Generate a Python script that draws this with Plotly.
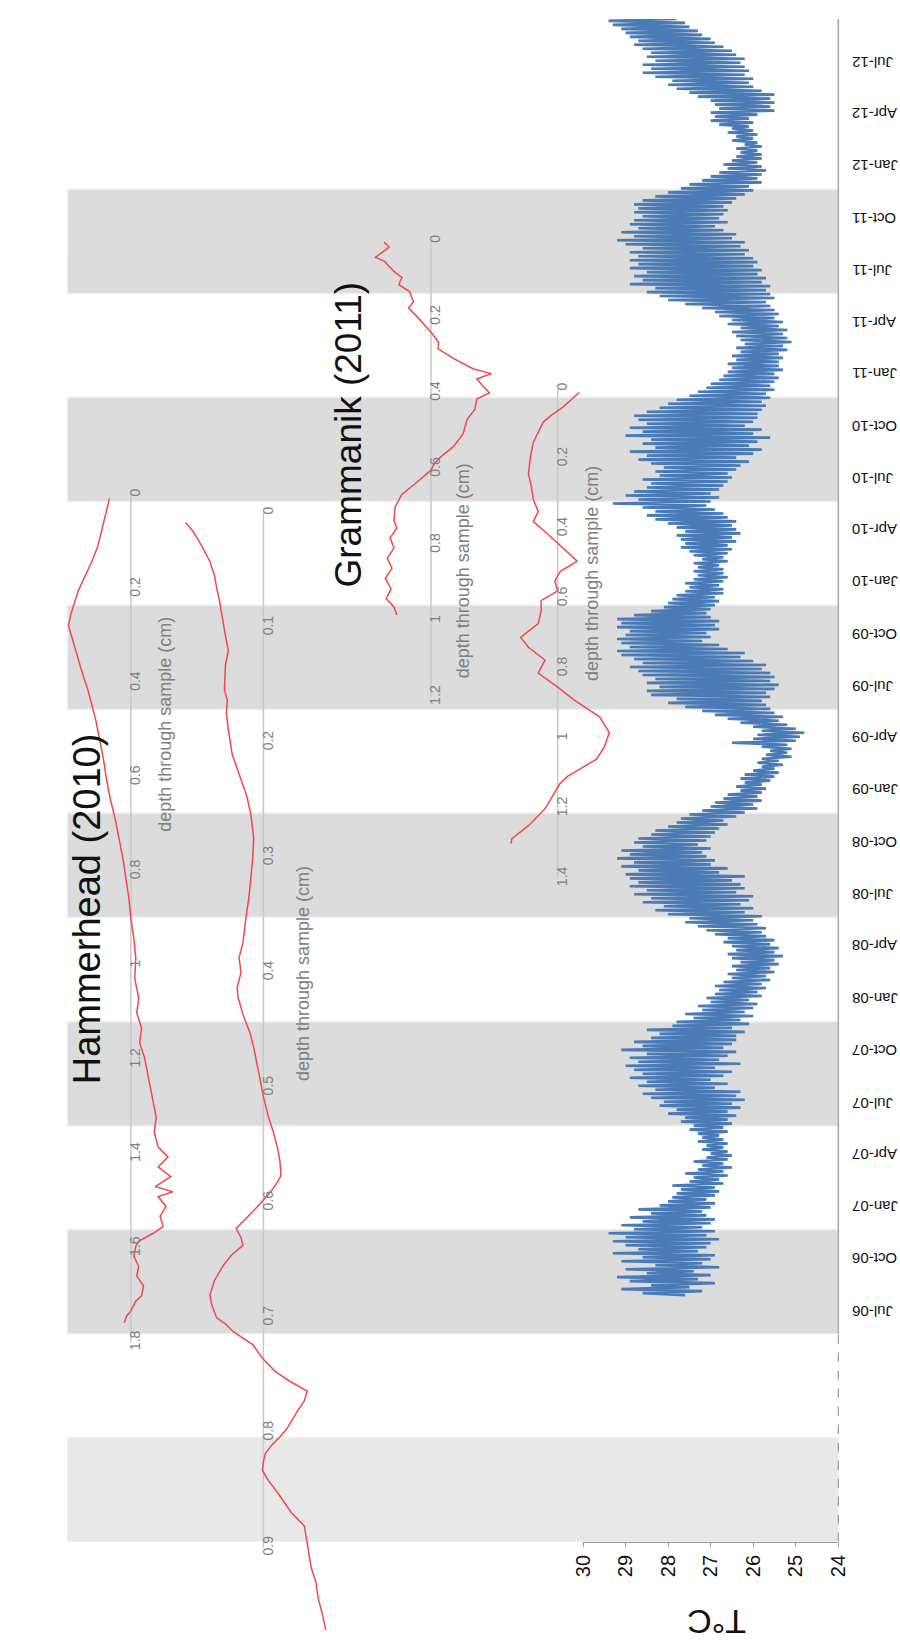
import pandas as pd
import plotly.graph_objects as go

W, H = 900, 1644
FONT = "Liberation Sans, Arial, sans-serif"

# ---------------- temperature logger record (weekly low / high, deg C) ----------------
logger_start = "2006-08-08"
t_high = [
    28.6, 29.1, 28.4, 28.9, 29.2, 28.5, 29.0, 28.3, 29.1, 28.6, 29.3, 28.7, 29.0,
    29.3, 29.0, 29.4, 28.8, 29.1, 28.6, 28.9, 28.4, 28.7, 28.2, 28.0, 27.9, 27.8,
    27.7, 27.9, 27.5, 27.4, 27.6, 27.3, 27.2, 27.4, 27.1, 27.0, 27.2, 27.1, 27.3,
    27.2, 27.3, 27.5, 27.4, 27.7, 27.6, 28.0, 27.8, 28.2, 28.1, 28.4, 28.6, 28.3,
    28.7, 28.5, 28.9, 28.6, 28.8, 29.0, 28.7, 28.9, 28.5, 29.1, 28.6, 28.8, 28.4,
    28.2, 28.5, 27.9, 27.8, 27.4, 27.6, 27.2, 27.3, 27.0, 27.1, 26.9, 26.8, 26.9,
    26.7, 26.5, 26.6, 26.4, 26.5, 26.3, 26.5, 26.6, 26.4, 26.5, 26.7, 26.6, 26.9,
    27.1, 27.3, 27.6, 27.5, 28.0, 28.3, 28.1, 28.6, 28.4, 28.8, 28.5, 28.9, 28.7,
    28.9, 29.0, 28.7, 29.1, 28.8, 29.2, 28.9, 29.1, 28.6, 28.8, 28.7, 28.4, 28.3,
    28.0, 27.8, 27.7, 27.5, 27.2, 27.0, 26.9, 26.7, 26.6, 26.3, 26.4, 26.2, 26.3,
    26.2, 26.0, 25.8, 25.9, 25.8, 25.7, 25.6, 25.8, 26.5, 26.0, 25.9, 25.8, 26.0,
    26.3, 26.6, 26.9, 27.2, 27.6, 28.0, 27.8, 28.4, 28.5, 28.2, 28.5, 28.3, 28.6,
    28.7, 28.9, 28.6, 28.8, 29.1, 29.2, 28.9, 29.1, 29.2, 29.0, 28.9, 29.2, 29.1,
    29.2, 28.8, 28.4, 28.1, 28.0, 27.9, 27.8, 27.6, 27.5, 27.6, 27.4, 27.3, 27.4,
    27.3, 27.4, 27.2, 27.4, 27.5, 27.7, 27.6, 27.7, 27.8, 27.6, 27.8, 28.0, 28.3,
    28.5, 28.3, 28.6, 29.3, 28.7, 29.0, 28.8, 28.5, 28.4, 28.6, 28.2, 28.3, 28.1,
    28.4, 28.7, 28.5, 28.9, 28.3, 28.6, 28.4, 29.0, 28.6, 28.9, 28.5, 28.7, 28.8,
    28.5, 28.2, 28.0, 27.8, 27.5, 27.3, 27.1, 27.0, 26.8, 26.7, 26.6, 26.5, 26.6,
    26.4, 26.5, 26.3, 26.4, 26.2, 26.3, 26.4, 26.5, 26.3, 26.6, 26.5, 26.8, 26.9,
    27.2, 27.6, 28.0, 28.2, 28.5, 28.3, 28.9, 28.6, 28.8, 28.5, 28.9, 28.7, 28.9,
    28.7, 28.9, 28.6, 29.0, 29.2, 28.8, 29.1, 28.7, 28.9, 28.8, 28.6, 28.8, 28.7,
    28.8, 28.6, 28.3, 28.0, 27.7, 27.5, 27.2, 27.0, 26.8, 26.6, 26.7, 26.5, 26.4,
    26.3, 26.4, 26.2, 26.5, 26.4, 26.6, 26.5, 26.8, 27.0, 26.9, 27.0, 26.8, 26.9,
    27.0, 27.3, 27.5, 27.8, 28.0, 27.9, 28.3, 28.6, 28.4, 28.6, 28.3, 28.5, 28.4,
    28.6, 28.8, 28.7, 28.9, 29.0, 29.1, 29.3, 29.4, 29.3,
]
t_low = [
    27.6, 27.2, 27.5, 26.9, 27.3, 27.0, 27.4, 26.8, 27.2, 27.0, 26.9, 27.3, 27.1,
    27.0, 26.8, 27.1, 26.9, 27.2, 27.0, 26.9, 27.1, 27.2, 27.0, 26.9, 27.1, 26.9,
    26.8, 26.9, 26.7, 26.8, 26.6, 26.7, 26.5, 26.7, 26.6, 26.5, 26.6, 26.7, 26.6,
    26.7, 26.8, 26.6, 26.7, 26.5, 26.6, 26.4, 26.6, 26.3, 26.5, 26.2, 26.4, 26.3,
    26.9, 26.6, 27.0, 26.7, 26.5, 26.9, 26.3, 26.8, 26.6, 26.4, 26.7, 26.5, 26.4,
    26.4, 26.2, 26.5, 26.1, 26.3, 26.0, 26.2, 26.0, 25.9, 26.1, 25.8, 25.9, 25.7,
    25.8, 25.6, 25.7, 25.5, 25.6, 25.4, 25.5, 25.3, 25.5, 25.4, 25.6, 25.5, 25.7,
    25.8, 25.7, 25.9, 26.0, 25.8, 26.2, 26.0, 26.3, 26.1, 26.0, 26.4, 26.2, 26.3,
    26.5, 26.2, 26.8, 26.6, 27.0, 26.9, 27.1, 27.2, 27.0, 27.3, 27.1, 27.0, 26.9,
    26.8, 26.6, 26.7, 26.4, 26.2, 25.9, 26.0, 25.8, 25.9, 25.8, 25.7, 25.8, 25.6,
    25.5, 25.4, 25.5, 25.3, 25.4, 25.1, 25.2, 25.1, 25.2, 25.0, 24.9, 24.8, 25.0,
    25.2, 25.4, 25.3, 25.5, 25.6, 25.7, 25.8, 25.6, 25.7, 25.5, 25.4, 25.6, 25.5,
    25.6, 25.8, 25.7, 26.0, 26.3, 26.2, 26.6, 26.8, 27.2, 27.0, 27.1, 26.8, 26.9,
    26.8, 27.0, 27.1, 27.0, 26.9, 26.8, 26.9, 26.7, 26.7, 26.8, 26.7, 26.6, 26.7,
    26.7, 26.8, 26.6, 26.7, 26.6, 26.5, 26.6, 26.4, 26.5, 26.3, 26.4, 26.5, 26.4,
    26.6, 26.7, 26.9, 27.1, 27.0, 26.8, 27.0, 26.8, 26.7, 26.6, 26.5, 26.6, 26.4,
    26.3, 26.1, 26.4, 26.0, 25.8, 26.1, 25.9, 25.6, 26.0, 25.8, 26.2, 26.0, 25.9,
    25.9, 25.8, 25.7, 25.8, 25.6, 25.7, 25.5, 25.6, 25.5, 25.4, 25.5, 25.3, 25.4,
    25.4, 25.3, 25.4, 25.2, 25.3, 25.1, 25.2, 25.3, 25.2, 25.4, 25.3, 25.5, 25.4,
    25.5, 25.6, 25.7, 25.5, 25.6, 25.7, 25.6, 25.8, 25.7, 25.9, 25.8, 26.0, 25.9,
    26.0, 26.2, 26.1, 26.3, 26.2, 26.5, 26.4, 26.7, 26.9, 26.6, 26.8, 26.7, 26.6,
    26.7, 26.5, 26.4, 26.2, 26.0, 26.1, 25.8, 25.9, 25.8, 25.7, 25.8, 25.9, 25.8,
    25.8, 25.9, 25.8, 25.9, 26.0, 25.9, 26.0, 26.1, 26.0, 26.1, 25.9, 25.5, 25.6,
    25.5, 25.6, 25.5, 25.8, 26.0, 26.1, 26.0, 26.2, 26.1, 26.2, 26.3, 26.2, 26.4,
    26.5, 26.7, 26.9, 27.0, 27.2, 27.3, 27.5, 27.6, 27.8,
]

# warm-season shading (Jun-Nov) and the date-axis span
season_starts = ["2005-06-01", "2006-06-01", "2007-06-01", "2008-06-01",
                 "2009-06-01", "2010-06-01", "2011-06-01"]
season_ends = ["2005-12-01", "2006-12-01", "2007-12-01", "2008-12-01",
               "2009-12-01", "2010-12-01", "2011-12-01"]
date_span = ["2005-06-01", "2012-09-25"]
record_axis_start = "2006-06-01"
date_ticks = pd.date_range("2006-07-01", "2012-07-01", freq="3MS")
temp_ticks = [24, 25, 26, 27, 28, 29, 30]

# ---------------- coral sample profiles (depth cm, relative signal) ----------------
hh1_depth = [0.008, 0.025, 0.046, 0.078, 0.110, 0.141, 0.173, 0.204, 0.236, 0.257,
             0.278, 0.299, 0.320, 0.352, 0.384, 0.415, 0.447, 0.479, 0.521, 0.563,
             0.605, 0.647, 0.689, 0.731, 0.774, 0.816, 0.858, 0.900, 0.942, 0.984,
             1.027, 1.069, 1.100, 1.132, 1.164, 1.195, 1.227, 1.258, 1.290, 1.322,
             1.353, 1.385, 1.406, 1.427, 1.448, 1.469, 1.480, 1.490, 1.511, 1.532,
             1.554, 1.568, 1.585, 1.596, 1.617, 1.638, 1.659, 1.680, 1.701, 1.712,
             1.733, 1.743, 1.758]
hh1_value = [35, 34, 33, 31, 29, 26, 22.5, 19, 16.5, 15,
             14, 15.5, 17, 19, 21.5, 24, 26, 28, 30, 32,
             33.5, 35.5, 38, 40, 42, 43.5, 45, 46, 47.5, 48.5,
             48, 50, 49, 51.5, 50.5, 53, 54.5, 56, 57.5, 59,
             58, 60, 65, 60, 66.5, 58.5, 67.5, 60, 64, 61,
             62.5, 57.5, 50, 48.5, 47.5, 50, 49, 52.5, 51.5, 48.5,
             46, 44, 42.5]

hh2_depth = [0.0086, 0.0164, 0.0293, 0.0422, 0.0552, 0.0655, 0.0767, 0.0940, 0.1069,
             0.1198, 0.1328, 0.1543, 0.1629, 0.1741, 0.1888, 0.2103, 0.2276, 0.2466,
             0.2621, 0.2828, 0.3009, 0.3181, 0.3353, 0.3526, 0.3741, 0.3871, 0.4000,
             0.4129, 0.4216, 0.4388, 0.4517, 0.4647, 0.4819, 0.4948, 0.5078, 0.5250,
             0.5379, 0.5509, 0.5638, 0.5767, 0.5853, 0.5940, 0.6069, 0.6224, 0.6302,
             0.6371, 0.6457, 0.6543, 0.6672, 0.6802, 0.6888, 0.7000, 0.7060, 0.7121,
             0.7233, 0.7362, 0.7466, 0.7552, 0.7638, 0.7724, 0.7810, 0.7897, 0.7966,
             0.8034, 0.8112, 0.8181, 0.8250, 0.8328, 0.8414, 0.8526, 0.8612, 0.8698,
             0.8810, 0.8914, 0.9043, 0.9172, 0.9302, 0.9431, 0.9560, 0.9716]
hh2_value = [14, 18, 22.5, 26.5, 29, 30, 31.5, 33, 34.5,
             36, 34.5, 34, 35.5, 35, 36, 38, 41.5, 45.5,
             47.5, 49, 48.5, 47.5, 46.5, 45, 43.5, 41.5, 42.5,
             40.5, 41, 44, 47, 49, 51, 52.5, 54, 56.5,
             59, 61, 62.5, 63, 60, 56, 49, 40, 42.5,
             43.5, 37.5, 33.5, 29, 26.5, 27.5, 30, 35, 38.5,
             48.5, 54, 60, 67.5, 76.5, 75, 71.5, 68.5, 66,
             62.5, 58, 55, 54, 53.5, 56.5, 61.5, 65, 68.5,
             75, 76, 77.5, 78.5, 81, 82, 84, 86]

gr1_depth = [0.003, 0.016, 0.043, 0.053, 0.080, 0.096, 0.115, 0.133, 0.160, 0.176,
             0.203, 0.240, 0.267, 0.283, 0.309, 0.336, 0.349, 0.363, 0.381, 0.400,
             0.416, 0.443, 0.469, 0.507, 0.541, 0.568, 0.587, 0.603, 0.640, 0.667,
             0.701, 0.736, 0.755, 0.781, 0.808, 0.835, 0.861, 0.888, 0.915, 0.941,
             0.963, 0.984]
gr1_value = [26, 28.5, 21.5, 26, 31, 35, 33.5, 39, 41, 38.5,
             43.5, 50, 54, 53.5, 61.5, 71.5, 81, 73.5, 76.5, 80,
             73.5, 72.5, 68.5, 66.5, 61.5, 55, 51.5, 50, 41.5, 35,
             31.5, 31, 32.5, 29, 31, 27.5, 30, 26.5, 29.5, 27,
             31, 32.5]

gr2_depth = [0.011, 0.030, 0.051, 0.075, 0.096, 0.125, 0.153, 0.195, 0.244, 0.280,
             0.317, 0.351, 0.380, 0.416, 0.456, 0.493, 0.521, 0.550, 0.578, 0.606,
             0.635, 0.671, 0.711, 0.739, 0.776, 0.813, 0.853, 0.890, 0.938, 0.983,
             1.023, 1.059, 1.085, 1.108, 1.130, 1.153, 1.201, 1.249, 1.286, 1.300]
gr2_value = [51, 47, 43, 37, 32.5, 30, 27.5, 26, 25, 26.5,
             27.5, 30, 27.5, 35, 42.5, 50, 41.5, 38.5, 40, 31.5,
             31.5, 30, 21, 25, 33.5, 30, 40, 48.5, 61.5, 66.5,
             64, 60, 52, 45, 41, 38.5, 33.5, 25, 16.5, 16]


def fx(px):
    return px / W


def fy(py):
    return 1 - py / H


BLUE = "#4a7bb7"
RED = "#f04a4a"
GREY_TXT = "#808080"
AXIS_GREY = "#a8a8a8"

fig = go.Figure()

# weekly low/high alternation gives the dense band of the logger record
wk = pd.date_range(logger_start, periods=len(t_high), freq="7D")
bx, by = [], []
for d, lo, hi in zip(wk, t_low, t_high):
    bx += [lo, hi]
    by += [d, d + pd.Timedelta(hours=84)]
fig.add_trace(go.Scatter(x=bx, y=by, mode="lines", line=dict(color=BLUE, width=2.6),
                         xaxis="x", yaxis="y", hoverinfo="skip", showlegend=False))

# profile subplots: (depth, value, x-axis id, y-axis id)
profiles = [
    (hh1_depth, hh1_value, "x2", "y2"),
    (hh2_depth, hh2_value, "x3", "y3"),
    (gr1_depth, gr1_value, "x4", "y4"),
    (gr2_depth, gr2_value, "x5", "y5"),
]
for dep, val, xa, ya in profiles:
    fig.add_trace(go.Scatter(x=val, y=dep, mode="lines", line=dict(color=RED, width=1.5),
                             xaxis=xa, yaxis=ya, hoverinfo="skip", showlegend=False))

layout = dict(
    width=W, height=H, margin=dict(l=0, r=0, t=0, b=0),
    paper_bgcolor="white", plot_bgcolor="rgba(0,0,0,0)",
    font=dict(family=FONT, color="#111"),
    showlegend=False,
    xaxis=dict(domain=[fx(586), fx(848)], range=[30, 24], anchor="y",
               tickvals=temp_ticks, tickangle=-90, ticks="outside", ticklen=4,
               tickcolor="#999", showline=True, linecolor="#999", linewidth=1.2,
               showgrid=False, zeroline=False, tickfont=dict(size=20, color="#111")),
    yaxis=dict(domain=[fy(1549), fy(13)], range=date_span, type="date", anchor="x",
               side="right", showticklabels=False, ticks="", showline=False,
               showgrid=False, zeroline=False),
)

# profile axes: hidden signal axes, depth axes with labels only
prof_axes = [
    # axis id, x-domain px, depth-domain px (top, bottom), depth max, axis-line px, ticks
    ("2", (30, 230), (493, 1348), 1.8, 122, [0, 0.2, 0.4, 0.6, 0.8, 1, 1.2, 1.4, 1.6, 1.8]),
    ("3", (150, 350), (511, 1644), 0.9767, 258, [0, 0.1, 0.2, 0.3, 0.4, 0.5, 0.6, 0.7, 0.8, 0.9]),
    ("4", (330, 530), (237, 697), 1.2, 430, [0, 0.2, 0.4, 0.6, 0.8, 1, 1.2]),
    ("5", (480, 680), (386, 880), 1.4, 560, [0, 0.2, 0.4, 0.6, 0.8, 1, 1.2, 1.4]),
]
shapes = []
for s, e in zip(season_starts, season_ends):
    light = s.startswith("2005")
    shapes.append(dict(type="rect", xref="paper", yref="y", x0=fx(57), x1=fx(848),
                       y0=s, y1=e, layer="below",
                       fillcolor="#e8e8e8" if light else "#dcdcdc",
                       line=dict(color="#efefef", width=1.5)))

# date axis line: solid over the logged record, dashed before it
shapes.append(dict(type="line", xref="paper", yref="y", x0=fx(848), x1=fx(848),
                   y0=record_axis_start, y1=date_span[1],
                   line=dict(color=AXIS_GREY, width=1.5)))
shapes.append(dict(type="line", xref="paper", yref="y", x0=fx(848), x1=fx(848),
                   y0=date_span[0], y1=record_axis_start,
                   line=dict(color="#999", width=1.2, dash="dash")))

for n, (x0, x1), (t, b), dmax, line_px, tv in prof_axes:
    layout["xaxis" + n] = dict(domain=[fx(x0), fx(x1)], range=[0, 100], anchor="y" + n,
                               visible=False)
    layout["yaxis" + n] = dict(domain=[fy(b), fy(t)], range=[dmax, 0], anchor="free",
                               position=fx(line_px - 6), side="right", tickvals=tv,
                               ticktext=[f"{v:g}" for v in tv], tickangle=-90,
                               ticks="", showline=False, showgrid=False, zeroline=False,
                               tickfont=dict(size=14, color=GREY_TXT))
    shapes.append(dict(type="line", xref="paper", yref="y" + n, x0=fx(line_px),
                       x1=fx(line_px), y0=0, y1=tv[-1], layer="below",
                       line=dict(color="#c8c8c8", width=1.5)))

layout["shapes"] = shapes

ann = [
    dict(text="Hammerhead (2010)", x=fx(77), y=fy(911), size=38, color="#111", angle=-90),
    dict(text="Grammanik (2011)", x=fx(345), y=fy(432), size=37, color="#111", angle=-90),
    dict(text="depth through sample (cm)", x=fx(157), y=fy(724), size=18, color=GREY_TXT, angle=-90),
    dict(text="depth through sample (cm)", x=fx(298), y=fy(976), size=18, color=GREY_TXT, angle=-90),
    dict(text="depth through sample (cm)", x=fx(463), y=fy(570), size=18, color=GREY_TXT, angle=-90),
    dict(text="depth through sample (cm)", x=fx(595), y=fy(572), size=18, color=GREY_TXT, angle=-90),
    dict(text="T°C", x=fx(723), y=fy(1630), size=34, color="#111", angle=180),
]
annotations = [
    dict(text=a["text"], x=a["x"], y=a["y"], xref="paper", yref="paper",
         showarrow=False, textangle=a["angle"], xanchor="center", yanchor="middle",
         font=dict(size=a["size"], color=a["color"], family=FONT))
    for a in ann
]
# quarterly date labels, upside down, aligned against the date axis
for d in date_ticks:
    annotations.append(dict(text=d.strftime("%b-%y"), x=fx(860), y=d, xref="paper",
                            yref="y", yshift=6, showarrow=False, textangle=180,
                            xanchor="left", yanchor="middle",
                            font=dict(size=15, color="#111", family=FONT)))
layout["annotations"] = annotations

fig.update_layout(**layout)
fig.write_html("out.html")
